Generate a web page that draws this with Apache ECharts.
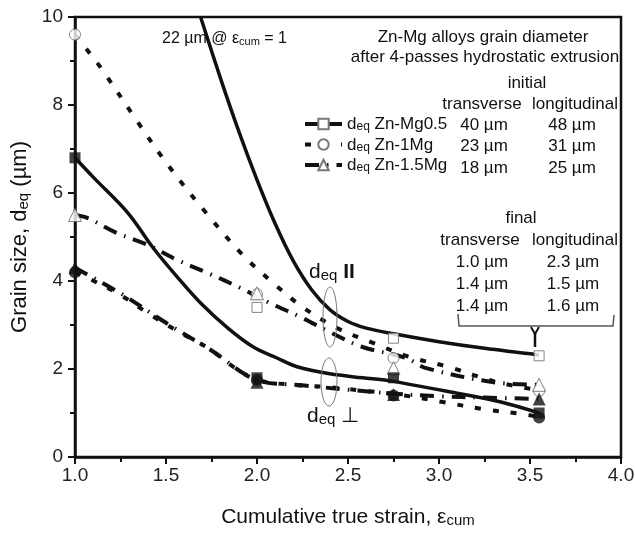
<!DOCTYPE html>
<html><head><meta charset="utf-8">
<script src="https://cdn.jsdelivr.net/npm/echarts@6/dist/echarts.min.js"></script>
<style>html,body{margin:0;padding:0;background:#fff}#c{width:635px;height:534px}</style>
</head><body><div id="c"></div>
<script>
const FONT = 'Liberation Sans, Arial, Helvetica, sans-serif';
const INK = '#111';

// measured points: cumulative strain
const strain = [1.0, 2.0, 2.75, 3.55];
// longitudinal (hollow markers), µm
const longZnMg05 = [22, 3.4, 2.7, 2.3];
const longZn1Mg = [9.6, 3.7, 2.25, 1.5];
const longZn15Mg = [5.5, 3.72, 2.02, 1.64];
// transverse (filled markers), µm
const transZnMg05 = [6.8, 1.8, 1.8, 1.0];
const transZn1Mg = [4.2, 1.75, 1.4, 0.9];
const transZn15Mg = [4.3, 1.7, 1.42, 1.32];

// fitted curves
const fitLZnMg05X = [1.69, 1.8, 1.9, 2.0, 2.1, 2.2, 2.3, 2.4, 2.5, 2.6, 2.75, 3.0, 3.25, 3.55];
const fitLZnMg05Y = [10.0, 8.6, 7.4, 6.3, 5.3, 4.45, 3.8, 3.35, 3.08, 2.93, 2.8, 2.62, 2.47, 2.32];
const fitLZn1MgX = [1.0, 1.08, 1.15, 1.33, 1.51, 1.72, 1.92, 2.09, 2.25, 2.44, 2.64, 2.84, 3.05, 3.32, 3.55];
const fitLZn1MgY = [9.6, 9.18, 8.8, 7.7, 6.64, 5.55, 4.6, 3.95, 3.41, 2.93, 2.59, 2.27, 2.05, 1.7, 1.52];
const fitLZn15MgX = [1.0, 1.07, 1.22, 1.4, 1.56, 1.73, 1.91, 2.07, 2.24, 2.4, 2.58, 2.82, 2.93, 3.3, 3.55];
const fitLZn15MgY = [5.5, 5.43, 5.11, 4.82, 4.48, 4.18, 3.84, 3.5, 3.18, 2.84, 2.5, 2.25, 2.02, 1.7, 1.64];
const fitTZnMg05X = [1.0, 1.1, 1.29, 1.43, 1.56, 1.69, 1.84, 1.98, 2.11, 2.22, 2.4, 2.58, 2.73, 3.1, 3.34, 3.55];
const fitTZnMg05Y = [6.8, 6.36, 5.55, 4.75, 4.1, 3.5, 2.93, 2.5, 2.25, 2.05, 1.89, 1.8, 1.73, 1.45, 1.25, 1.0];
const fitTZn1MgX = [1.0, 1.07, 1.25, 1.4, 1.58, 1.73, 1.87, 2.0, 2.2, 2.38, 2.6, 2.79, 3.02, 3.24, 3.45, 3.55];
const fitTZn1MgY = [4.2, 4.07, 3.68, 3.27, 2.82, 2.48, 2.05, 1.75, 1.64, 1.59, 1.5, 1.41, 1.25, 1.09, 0.98, 0.91];
const fitTZn15MgX = [1.0, 1.25, 1.5, 1.75, 2.0, 2.25, 2.5, 2.75, 3.0, 3.25, 3.55];
const fitTZn15MgY = [4.3, 3.72, 3.05, 2.42, 1.75, 1.63, 1.53, 1.44, 1.38, 1.35, 1.32];

// table text
const alloys = ['Zn-Mg0.5', 'Zn-1Mg', 'Zn-1.5Mg'];
const initTrans = ['40 \u00b5m', '23 \u00b5m', '18 \u00b5m'];
const initLong = ['48 \u00b5m', '31 \u00b5m', '25 \u00b5m'];
const finalTrans = ['1.0 \u00b5m', '1.4 \u00b5m', '1.4 \u00b5m'];
const finalLong = ['2.3 \u00b5m', '1.5 \u00b5m', '1.6 \u00b5m'];
const xTickLabels = ['1.0', '1.5', '2.0', '2.5', '3.0', '3.5', '4.0'];
const yTickLabels = ['0', '2', '4', '6', '8', '10'];

const zip = (xs, ys) => xs.map((x, i) => [x, ys[i]]);

const SOLID = 'solid';
const DOT = [6, 12];
const DASHDOT = [14, 8, 1.5, 8];

function fit(name, xs, ys, type, sym) {
  return {
    name: name, type: 'line', data: zip(xs, ys), smooth: 0.35,
    symbol: sym || 'none', showSymbol: false, silent: true, z: 2,
    lineStyle: { color: INK, width: type === SOLID ? 3.5 : 4, type: type, cap: 'butt' },
    itemStyle: { color: INK }
  };
}
function marks(name, ys, symbol, size, hollow) {
  return {
    name: name, type: 'scatter', data: zip(strain, ys), symbol: symbol, symbolSize: size,
    silent: true, z: 5, clip: true,
    itemStyle: hollow ? { color: '#fff', borderColor: '#666', borderWidth: 1 } : { color: INK }
  };
}

const subRich = {
  a: { fontSize: 17, fontFamily: FONT, color: INK, verticalAlign: 'bottom', lineHeight: 18 },
  s: { fontSize: 12, fontFamily: FONT, color: INK, verticalAlign: 'bottom', lineHeight: 8 }
};

const chart = echarts.init(document.getElementById('c'), null, { renderer: 'canvas' });

function txt(x, y, text, align, size) {
  return { type: 'text', x: x, y: y, silent: true, z: 10,
    style: { text: text, fill: INK, font: (size || 17) + 'px ' + FONT, align: align || 'center', verticalAlign: 'middle' } };
}

const graphics = [];
graphics.push({ type: 'text', x: 162, y: 37, z: 10, silent: true,
  style: { text: '{a|22 \u00b5m @ \u03b5}{s|cum}{a| = 1}', align: 'left', verticalAlign: 'middle',
    rich: { a: { fontSize: 16, fontFamily: FONT, fill: INK, verticalAlign: 'bottom', lineHeight: 20 },
            s: { fontSize: 11, fontFamily: FONT, fill: INK, verticalAlign: 'bottom', lineHeight: 10 } } } });
graphics.push(txt(483, 37, 'Zn-Mg alloys grain diameter'));
graphics.push(txt(485, 57, 'after 4-passes hydrostatic extrusion'));
graphics.push(txt(527, 83, 'initial'));
graphics.push(txt(482, 104, 'transverse'));
graphics.push(txt(575, 104, 'longitudinal'));
alloys.forEach((a, i) => {
  graphics.push(txt(484, 125 + i * 21.5, initTrans[i]));
  graphics.push(txt(572, 125 + i * 21.5, initLong[i]));
});
graphics.push(txt(521, 218, 'final'));
graphics.push(txt(480, 240, 'transverse'));
graphics.push(txt(575, 240, 'longitudinal'));
alloys.forEach((a, i) => {
  graphics.push(txt(482, 262 + i * 22, finalTrans[i]));
  graphics.push(txt(573, 262 + i * 22, finalLong[i]));
});
// bracket
graphics.push({ type: 'polyline', silent: true, z: 10,
  shape: { points: [[458, 314], [459, 326], [613, 326], [614, 315]] },
  style: { stroke: '#555', lineWidth: 1.5, fill: null } });
graphics.push({ type: 'polyline', silent: true, z: 10,
  shape: { points: [[531, 327], [535, 334], [539, 327]] },
  style: { stroke: INK, lineWidth: 2, fill: null } });
graphics.push({ type: 'line', silent: true, z: 10,
  shape: { x1: 535, y1: 333, x2: 535, y2: 347 }, style: { stroke: INK, lineWidth: 2.5 } });
// ellipses
graphics.push({ type: 'ellipse', silent: true, z: 10, shape: { cx: 330, cy: 317, rx: 7, ry: 30 },
  style: { stroke: '#777', lineWidth: 1, fill: null } });
graphics.push({ type: 'ellipse', silent: true, z: 10, shape: { cx: 329, cy: 382, rx: 8, ry: 24 },
  style: { stroke: '#777', lineWidth: 1, fill: null } });
// d_eq labels
const bigRich = {
  a: { fontSize: 21, fontFamily: FONT, fill: INK, verticalAlign: 'bottom', lineHeight: 24 },
  s: { fontSize: 15, fontFamily: FONT, fill: INK, verticalAlign: 'bottom', lineHeight: 12 },
  b: { fontSize: 21, fontFamily: FONT, fontWeight: 'bold', fill: INK, verticalAlign: 'bottom', lineHeight: 24 }
};
graphics.push({ type: 'text', x: 309, y: 271, z: 10, silent: true,
  style: { text: '{a|d}{s|eq}{b| II}', align: 'left', verticalAlign: 'middle', rich: bigRich } });
graphics.push({ type: 'text', x: 307, y: 415, z: 10, silent: true,
  style: { text: '{a|d}{s|eq}{a| \u22a5}', align: 'left', verticalAlign: 'middle', rich: bigRich } });

const option = {
  animation: false,
  backgroundColor: '#fff',
  grid: { left: 75, right: 14, top: 17, bottom: 77, containLabel: false, outerBoundsMode: 'none',
    show: true, borderColor: INK, borderWidth: 2.5, backgroundColor: 'transparent' },
  xAxis: {
    type: 'value', min: 1, max: 4, interval: 0.5,
    name: '{a|Cumulative true strain, \u03b5}{s|cum}', nameLocation: 'middle', nameGap: 45,
    nameTextStyle: { fontSize: 21, fontFamily: FONT, color: INK,
      rich: { a: { fontSize: 21, fontFamily: FONT, color: INK, verticalAlign: 'bottom', lineHeight: 26 },
              s: { fontSize: 15, fontFamily: FONT, color: INK, verticalAlign: 'bottom', lineHeight: 13 } } },
    axisLine: { lineStyle: { color: INK, width: 2.5 } },
    axisTick: { inside: false, length: 7, lineStyle: { color: INK, width: 2 } },
    minorTick: { show: true, splitNumber: 2, length: 5, lineStyle: { color: INK, width: 2 } },
    splitLine: { show: false },
    axisLabel: { fontSize: 19, fontFamily: FONT, color: '#222', margin: 9,
      formatter: v => xTickLabels[Math.round((v - 1) / 0.5)] }
  },
  yAxis: {
    type: 'value', min: 0, max: 10, interval: 2,
    name: '{a|Grain size, d}{s|eq}{a| (\u00b5m)}', nameLocation: 'middle', nameGap: 32,
    nameTextStyle: { fontSize: 22, fontFamily: FONT, color: INK,
      rich: { a: { fontSize: 22, fontFamily: FONT, color: INK, verticalAlign: 'bottom', lineHeight: 26 },
              s: { fontSize: 15, fontFamily: FONT, color: INK, verticalAlign: 'bottom', lineHeight: 13 } } },
    axisLine: { lineStyle: { color: INK, width: 2.5 } },
    axisTick: { inside: false, length: 7, lineStyle: { color: INK, width: 2 } },
    minorTick: { show: true, splitNumber: 2, length: 5, lineStyle: { color: INK, width: 2 } },
    splitLine: { show: false },
    axisLabel: { fontSize: 19, fontFamily: FONT, color: '#222', margin: 12,
      formatter: v => yTickLabels[Math.round(v / 2)] }
  },
  legend: {
    left: 303, top: 116, padding: 0, orient: 'vertical', itemWidth: 37, itemHeight: 13, itemGap: 3.5,
    selectedMode: false,
    lineStyle: { width: 4 },
    data: [
      { name: 'Zn-Mg0.5', itemStyle: { color: '#777' } },
      { name: 'Zn-1Mg', itemStyle: { color: '#777' } },
      { name: 'Zn-1.5Mg', itemStyle: { color: '#777' } }
    ],
    formatter: n => '{a|d}{s|eq}{a| ' + n + '}',
    textStyle: { fontSize: 17, fontFamily: FONT, color: INK, rich: subRich }
  },
  series: [
    fit('Zn-Mg0.5', fitLZnMg05X, fitLZnMg05Y, SOLID, 'emptyRect'),
    fit('Zn-1Mg', fitLZn1MgX, fitLZn1MgY, DOT, 'emptyCircle'),
    fit('Zn-1.5Mg', fitLZn15MgX, fitLZn15MgY, DASHDOT, 'emptyTriangle'),
    fit('T Zn-Mg0.5', fitTZnMg05X, fitTZnMg05Y, SOLID),
    fit('T Zn-1Mg', fitTZn1MgX, fitTZn1MgY, DOT),
    fit('T Zn-1.5Mg', fitTZn15MgX, fitTZn15MgY, DASHDOT),
    marks('L Zn-1Mg pts', longZn1Mg, 'circle', 11, true),
    marks('L Zn-Mg0.5 pts', longZnMg05, 'rect', 10, true),
    marks('L Zn-1.5Mg pts', longZn15Mg, 'triangle', 13, true),
    marks('T Zn-Mg0.5 pts', transZnMg05, 'rect', 11, false),
    marks('T Zn-1.5Mg pts', transZn15Mg, 'triangle', 13, false),
    marks('T Zn-1Mg pts', transZn1Mg, 'circle', 12, false)
  ],
  graphic: graphics
};
chart.setOption(option);
</script></body></html>
